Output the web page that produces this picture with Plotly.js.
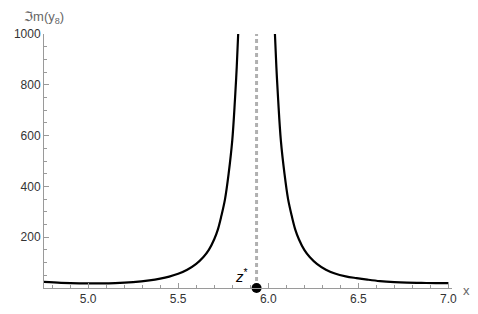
<!DOCTYPE html>
<html>
<head>
<meta charset="utf-8">
<script src="https://cdn.plot.ly/plotly-3.0.1.min.js"></script>
<style>html,body{margin:0;padding:0;background:#fff;}#chart{width:478px;height:314px;}</style>
</head>
<body>
<div id="chart"></div>
<script>
// Left branch of Im(y8)
const leftX = [4.75, 4.85, 4.95, 5.05, 5.15, 5.25, 5.34, 5.40, 5.45, 5.50, 5.55, 5.60, 5.64, 5.67, 5.70, 5.72, 5.74, 5.76, 5.78, 5.80, 5.815, 5.825, 5.833];
const leftY = [24, 20, 18, 18, 19, 23, 30, 37, 45, 56, 72, 95, 122, 150, 192, 230, 285, 350, 450, 580, 740, 870, 1000];
// Right branch
const rightX = [6.037, 6.045, 6.055, 6.07, 6.09, 6.11, 6.13, 6.15, 6.17, 6.20, 6.23, 6.27, 6.32, 6.37, 6.43, 6.49, 6.55, 6.62, 6.70, 6.77, 6.85, 6.93, 7.0];
const rightY = [1000, 870, 740, 580, 450, 350, 285, 230, 192, 150, 122, 95, 72, 57, 46, 39, 33, 27, 23, 21, 20, 19, 19];
// Singular point z*
const zStar = 5.935;
const zLineY = [0, 1000];
const xTickVals = [5.0, 5.5, 6.0, 6.5, 7.0];
const xTickText = ["5.0", "5.5", "6.0", "6.5", "7.0"];
const yTickVals = [200, 400, 600, 800, 1000];
const yTickText = ["200", "400", "600", "800", "1000"];

const font = "Liberation Sans, Arial, sans-serif";
const traces = [
  {x: [zStar, zStar], y: zLineY, mode: "lines", line: {color: "#b0b0b0", width: 3, dash: "4px,3px"}, hoverinfo: "skip"},
  {x: leftX, y: leftY, mode: "lines", line: {color: "#000", width: 2.2, shape: "spline", smoothing: 1}},
  {x: rightX, y: rightY, mode: "lines", line: {color: "#000", width: 2.2, shape: "spline", smoothing: 1}},
  {x: [zStar], y: [0], mode: "markers", marker: {color: "#000", size: 10}, cliponaxis: false}
];
const axisCommon = {
  showline: true, linecolor: "#9a9a9a", linewidth: 1, showgrid: false, zeroline: false,
  ticks: "inside", ticklen: 5, tickcolor: "#9a9a9a", tickwidth: 1,
  tickfont: {family: font, size: 12, color: "#333"}
};
const layout = {
  width: 478, height: 314,
  margin: {l: 44, r: 26, t: 34, b: 26},
  paper_bgcolor: "#fff", plot_bgcolor: "#fff",
  showlegend: false,
  xaxis: Object.assign({}, axisCommon, {
    range: [4.755, 7.02], tickvals: xTickVals, ticktext: xTickText,
    minor: {dtick: 0.1, tick0: 5.0, ticks: "inside", ticklen: 3, tickcolor: "#9a9a9a"}
  }),
  yaxis: Object.assign({}, axisCommon, {
    range: [0, 1000], tickvals: yTickVals, ticktext: yTickText,
    minor: {dtick: 50, tick0: 0, ticks: "inside", ticklen: 3, tickcolor: "#9a9a9a"}
  }),
  annotations: [
    {xref: "paper", yref: "paper", x: 0.054, y: 1.0, yshift: 17, xanchor: "right", yanchor: "middle",
     text: "<span style=\"font-family:DejaVu Sans\">ℑ</span>m(y<sub>8</sub>)", showarrow: false,
     font: {family: font, size: 13, color: "#666"}},
    {xref: "paper", yref: "paper", x: 1.0, y: 0, xshift: 14, yshift: -2, xanchor: "center", yanchor: "middle",
     text: "x", showarrow: false, font: {family: font, size: 13, color: "#666"}},
    {xref: "x", yref: "y", x: zStar, y: 0, xshift: -15, yshift: 13, xanchor: "center", yanchor: "middle",
     text: "<i>z</i><sup>*</sup>", showarrow: false, font: {family: font, size: 15, color: "#000"}}
  ]
};
Plotly.newPlot("chart", traces, layout, {staticPlot: true, displayModeBar: false});
</script>
</body>
</html>
